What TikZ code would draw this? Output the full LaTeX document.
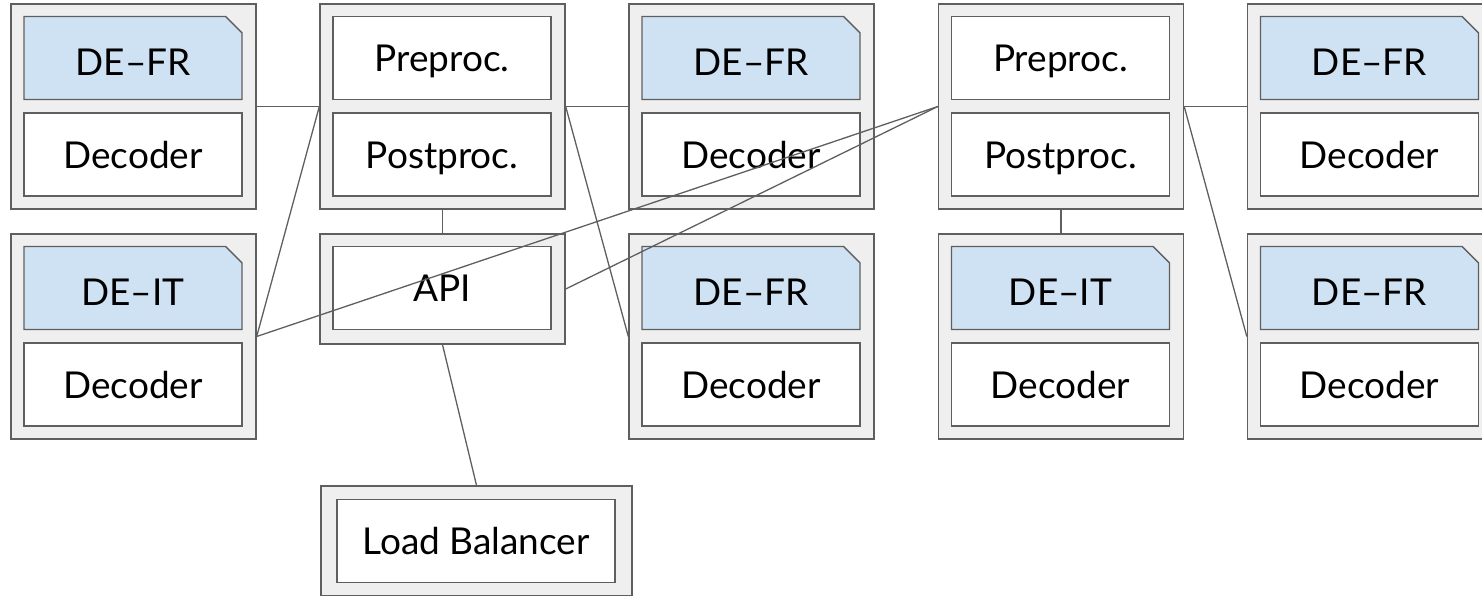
\documentclass[tikz,border=0pt]{standalone}
\usepackage{fontspec}
\setmainfont{Lato}
\usetikzlibrary{shapes.misc}
\definecolor{edgegray}{HTML}{5F5F5F}
\definecolor{shellfill}{HTML}{EFEFEF}
\definecolor{modelblue}{HTML}{CFE2F3}
\tikzset{
  shell/.style={draw=edgegray, fill=shellfill, line width=1.4pt,
    minimum width=245pt, minimum height=205pt, inner sep=0pt},
  shortshell/.style={shell, minimum height=110pt},
  wideshell/.style={shell, minimum width=311pt, minimum height=110pt},
  part/.style={draw=edgegray, fill=white, line width=1.4pt,
    minimum width=218pt, minimum height=83pt, inner sep=0pt,
    text height=27pt, text depth=0pt,
    font=\fontsize{37}{42}\selectfont},
  widepart/.style={part, minimum width=278pt},
  model/.style={part, fill=modelblue, text height=35pt, chamfered rectangle,
    chamfered rectangle corners=north east, chamfered rectangle xsep=13pt},
  link/.style={draw=edgegray, line width=1.3pt}
}
\begin{document}
\begin{tikzpicture}[x=1pt,y=-1pt]
\useasboundingbox (0,0) rectangle (1482,596);
\clip (0,0) rectangle (1482,596);

% column 1: two decoder workers
\node[shell] (w1) at (133.5,106.5) {};
\node[model] (w1m) at (133,58) {DE–FR};
\node[part]  (w1d) at (133,154.5) {Decoder};
\node[shell] (w2) at (133.5,336.5) {};
\node[model] (w2m) at (133,288) {DE–IT};
\node[part]  (w2d) at (133,384.5) {Decoder};

% column 2: front end, API and load balancer
\node[shell] (f1) at (442.5,106.5) {};
\node[part]  (f1a) at (442,58) {Preproc.};
\node[part]  (f1b) at (442,154.5) {Postproc.};
\node[shortshell] (api) at (442.5,289) {};
\node[part]  (apii) at (442,288) {API};
\node[wideshell] (lb) at (476.5,541) {};
\node[widepart] (lbi) at (476,541) {Load Balancer};

% column 3: two decoder workers
\node[shell] (w3) at (751.5,106.5) {};
\node[model] (w3m) at (751,58) {DE–FR};
\node[part]  (w3d) at (751,154.5) {Decoder};
\node[shell] (w4) at (751.5,336.5) {};
\node[model] (w4m) at (751,288) {DE–FR};
\node[part]  (w4d) at (751,384.5) {Decoder};

% column 4: second front end and its decoder worker
\node[shell] (f2) at (1061,106.5) {};
\node[part]  (f2a) at (1060.5,58) {Preproc.};
\node[part]  (f2b) at (1060.5,154.5) {Postproc.};
\node[shell] (w5) at (1061,336.5) {};
\node[model] (w5m) at (1060.5,288) {DE–IT};
\node[part]  (w5d) at (1060.5,384.5) {Decoder};

% column 5: two decoder workers
\node[shell] (w6) at (1370,106.5) {};
\node[model] (w6m) at (1369.5,58) {DE–FR};
\node[part]  (w6d) at (1369.5,154.5) {Decoder};
\node[shell] (w7) at (1370,336.5) {};
\node[model] (w7m) at (1369.5,288) {DE–FR};
\node[part]  (w7d) at (1369.5,384.5) {Decoder};

% connections
\draw[link] (f1.west) -- (w1.east);
\draw[link] (f1.west) -- (w2.east);
\draw[link] (f1.east) -- (w3.west);
\draw[link] (f1.east) -- (w4.west);
\draw[link] (f1.south) -- (api.north);
\draw[link] (api.south) -- (lb.north);
\draw[link] (w2.east) -- (f2.west);
\draw[link] (api.east) -- (f2.west);
\draw[link] (f2.south) -- (w5.north);
\draw[link] (f2.east) -- (w6.west);
\draw[link] (f2.east) -- (w7.west);
\end{tikzpicture}
\end{document}
